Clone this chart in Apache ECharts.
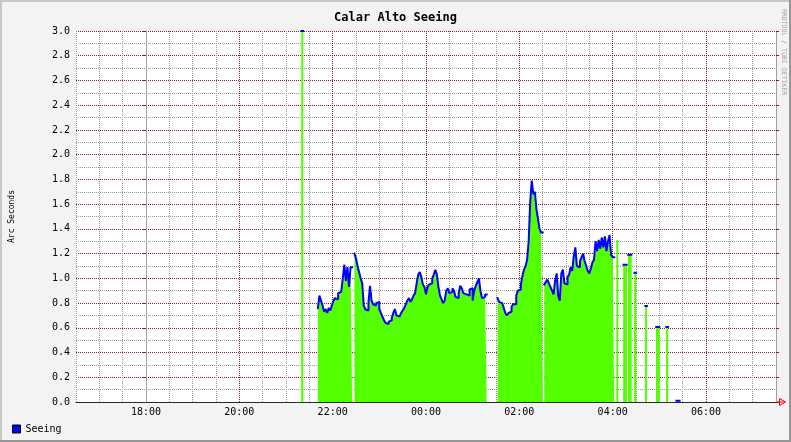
<!DOCTYPE html>
<html><head><meta charset="utf-8">
<script src="https://cdn.jsdelivr.net/npm/echarts@6/dist/echarts.min.js"></script>
<style>html,body{margin:0;padding:0;background:#f3f3f3}#c{width:791px;height:442px}</style>
</head><body><div id="c"></div>
<script>
// ---- chart texts ----
const chartTitle = 'Calar Alto Seeing';
const yAxisName = 'Arc Seconds';
const seriesName = 'Seeing';
const creditText = 'RRDTOOL / TOBI OETIKER';

// ---- axes ----
const xStart = '16:30';
const xEnd = '07:30';
const xLabelTimes = ['18:00', '20:00', '22:00', '00:00', '02:00', '04:00', '06:00'];
const yMin = 0, yMax = 3.0;

// ---- data: sample step in minutes, segment start times, values ----
const stepMin = 2;
const segmentStarts = ['21:20', '21:41', '22:28', '01:32', '02:32',
  '04:14', '04:20', '04:28', '04:42', '04:56', '05:09', '05:22'];
const segSpike = [3.0];
const segEvening = [0.76, 0.86, 0.82, 0.78, 0.73, 0.75, 0.72, 0.76, 0.74, 0.78,
  0.82, 0.84, 0.83, 0.88, 0.89, 0.90, 1.00, 1.11, 0.98, 1.09, 0.93, 1.09];
const segNight = [1.20, 1.16, 1.10, 1.05, 1.00, 0.96, 0.78, 0.75, 0.74, 0.80,
  0.94, 0.82, 0.79, 0.78, 0.80, 0.81, 0.75, 0.72, 0.69, 0.66,
  0.64, 0.63, 0.65, 0.66, 0.68, 0.72, 0.75, 0.70, 0.69, 0.69,
  0.72, 0.74, 0.76, 0.79, 0.82, 0.84, 0.81, 0.83, 0.86, 0.88,
  0.96, 1.03, 1.05, 1.01, 0.95, 0.93, 0.87, 0.93, 0.95, 0.96,
  1.00, 1.03, 1.07, 1.03, 0.93, 0.86, 0.83, 0.80, 0.82, 0.90,
  0.92, 0.88, 0.89, 0.92, 0.90, 0.85, 0.84, 0.88, 0.94, 0.92,
  0.88, 0.87, 0.88, 0.86, 0.91, 0.92, 0.82, 0.90, 0.94, 0.97,
  1.00, 0.90, 0.84, 0.85, 0.87];
const segEarly = [0.84, 0.81, 0.80, 0.79, 0.76, 0.72, 0.70, 0.72, 0.73, 0.77,
  0.79, 0.79, 0.86, 0.90, 0.91, 0.95, 1.02, 1.07, 1.10, 1.15,
  1.30, 1.62, 1.79, 1.68, 1.70, 1.56, 1.48, 1.40, 1.37];
const segLate = [0.95, 0.97, 0.99, 0.96, 0.93, 0.90, 0.87, 0.98, 1.04, 0.86,
  0.82, 1.04, 1.07, 0.96, 0.95, 1.01, 1.03, 1.09, 1.06, 1.18,
  1.25, 1.10, 1.09, 1.14, 1.17, 1.20, 1.14, 1.10, 1.06, 1.04,
  1.08, 1.13, 1.15, 1.30, 1.22, 1.31, 1.24, 1.33, 1.25, 1.34,
  1.22, 1.30, 1.35, 1.19, 1.17];
const segDawn1 = [1.11, 1.11];
const segDawn2 = [1.19, 1.19];
const segDawn3 = [1.045];
const segDawn4 = [0.776];
const segDawn5 = [0.606, 0.606];
const segDawn6 = [0.606];
const segDawn7 = [0.01, 0.01];
const segments = [segSpike, segEvening, segNight, segEarly, segLate,
  segDawn1, segDawn2, segDawn3, segDawn4, segDawn5, segDawn6, segDawn7];
// a sample drawn as area only (no line on it)
const areaOnlyStarts = ['04:05'];
const areaOnlySegments = [[1.31]];

// ---- helpers ----
function toMin(s) { // minutes relative to 18:00, wrapping past midnight
  const p = s.split(':').map(Number);
  let v = p[0] * 60 + p[1] - 1080;
  if (v < -120) v += 1440;
  return v;
}
function build(starts, segs) {
  const out = [];
  starts.forEach((s, k) => {
    const t0 = toMin(s), vals = segs[k];
    vals.forEach((v, i) => out.push([t0 + i * stepMin, v]));
    const tEnd = t0 + vals.length * stepMin;
    out.push([tEnd, vals[vals.length - 1]]);
    out.push([tEnd, null]);
  });
  return out;
}
// short isolated samples are also drawn as narrow bars so they stay visible
function isolated(starts, segs) {
  const out = [];
  starts.forEach((s, k) => {
    const t0 = toMin(s), vals = segs[k];
    if (vals.length <= 2) vals.forEach((v, i) => out.push([t0 + i * stepMin + stepMin / 2, v]));
  });
  return out;
}
const labelMap = {};
xLabelTimes.forEach(t => { labelMap[toMin(t)] = t; });

const GREEN = '#54ff00', BLUE = '#0000ff', MGRID = '#821e1e', GRID = '#9a9a9a';
const FONT = 'DejaVu Sans Mono';

const chart = echarts.init(document.getElementById('c'), null, { renderer: 'canvas' });
chart.setOption({
  animation: false,
  backgroundColor: '#f3f3f3',
  textStyle: { fontFamily: FONT },
  title: {
    text: chartTitle, left: 'center', top: 7,
    textStyle: { fontFamily: FONT, fontSize: 12, fontWeight: 'bold', color: '#000' }
  },
  legend: {
    data: [{ name: seriesName, icon: 'rect' }],
    left: 12, top: 424, padding: 0, itemWidth: 8, itemHeight: 8,
    itemStyle: { color: BLUE, borderColor: '#000', borderWidth: 1 },
    textStyle: { fontFamily: FONT, fontSize: 10, color: '#000' }
  },
  grid: { left: 74, right: 15, top: 31, bottom: 40, show: true, backgroundColor: '#ffffff', borderWidth: 0 },
  xAxis: {
    type: 'value', min: toMin(xStart), max: toMin(xEnd), interval: 30,
    axisLine: { show: true, lineStyle: { color: '#2a2a2a', width: 1 } },
    axisTick: { show: false },
    axisLabel: {
      margin: 5, fontFamily: FONT, fontSize: 10, color: '#000',
      formatter: v => labelMap[v] || ''
    },
    splitLine: { show: true, lineStyle: { color: [GRID, GRID, GRID, MGRID], type: [1, 1], width: 1 } }
  },
  yAxis: [{
    type: 'value', min: yMin, max: yMax, interval: 0.2,
    name: yAxisName, nameLocation: 'middle', nameGap: 60,
    nameTextStyle: { fontFamily: FONT, fontSize: 8, color: '#000' },
    axisLine: { show: true, lineStyle: { color: '#a0a0a0' } },
    axisTick: { show: true, length: 3, lineStyle: { color: MGRID } },
    axisLabel: { margin: 6, fontFamily: FONT, fontSize: 10, color: '#000', formatter: v => v.toFixed(1) },
    splitLine: { show: true, lineStyle: { color: MGRID, type: [1, 1] } },
    minorTick: { show: false, splitNumber: 2 },
    minorSplitLine: { show: true, lineStyle: { color: GRID, type: [1, 1] } }
  }, {
    type: 'value', min: yMin, max: yMax, interval: 0.2, position: 'right',
    axisLine: { show: true, lineStyle: { color: '#a0a0a0' } },
    axisTick: { show: true, length: 3, lineStyle: { color: MGRID } },
    axisLabel: { show: false },
    splitLine: { show: false }
  }],
  series: [{
    name: seriesName, type: 'line', step: 'end', data: build(segmentStarts, segments),
    symbol: 'none', showSymbol: false, connectNulls: false, z: 3,
    itemStyle: { color: BLUE },
    lineStyle: { color: BLUE, width: 2, cap: 'square', join: 'bevel' },
    areaStyle: { color: GREEN, opacity: 1 }
  }, {
    name: seriesName + ' bars', type: 'bar', barWidth: 2,
    data: isolated(segmentStarts, segments).concat(isolated(areaOnlyStarts, areaOnlySegments)),
    itemStyle: { color: GREEN }, z: 2
  }],
  graphic: [
    { type: 'rect', shape: { x: 0, y: 0, width: 791, height: 2 }, style: { fill: '#c8c8c8' }, silent: true },
    { type: 'rect', shape: { x: 0, y: 0, width: 2, height: 442 }, style: { fill: '#c8c8c8' }, silent: true },
    { type: 'rect', shape: { x: 0, y: 440, width: 791, height: 2 }, style: { fill: '#969696' }, silent: true },
    { type: 'rect', shape: { x: 789, y: 0, width: 2, height: 442 }, style: { fill: '#969696' }, silent: true },
    { type: 'polyline', shape: { points: [[776, 402], [785, 402]] }, style: { stroke: '#ff0000', lineWidth: 1 }, silent: true },
    { type: 'polygon', shape: { points: [[779.5, 398.5], [785.5, 402], [779.5, 405.5]] }, style: { fill: 'none', stroke: '#ff0000', lineWidth: 1 }, silent: true },
    { type: 'text', x: 784, y: 52, rotation: -Math.PI / 2, silent: true,
      style: { text: creditText, fill: '#a0a0a0', font: '6.5px ' + FONT, align: 'center', verticalAlign: 'middle' } }
  ]
});
</script></body></html>
